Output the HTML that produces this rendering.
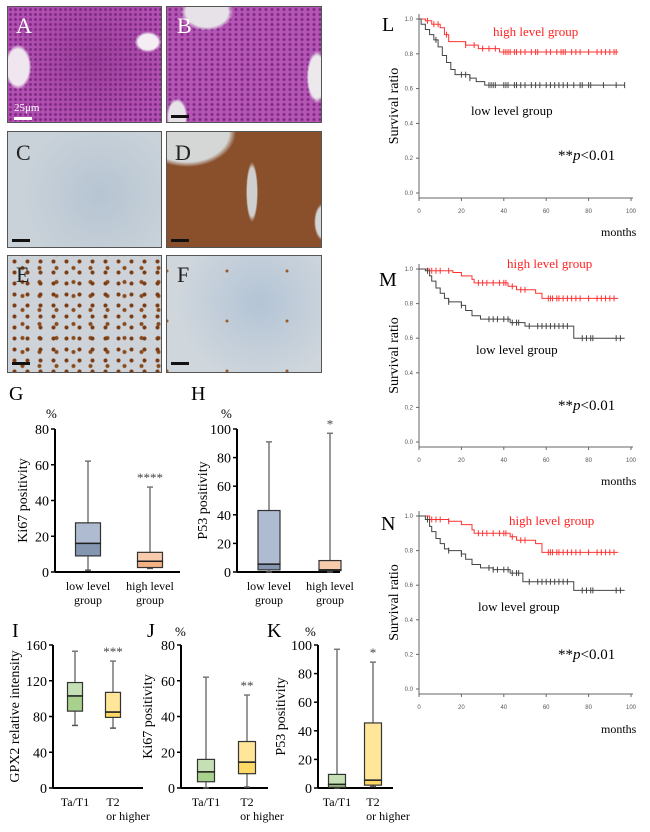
<!DOCTYPE html>
<html><head><meta charset="utf-8"><style>
body{margin:0;background:#fff;width:650px;height:832px;overflow:hidden;position:relative;font-family:"Liberation Serif",serif}
.img{position:absolute;border:1px solid #555;box-sizing:border-box;overflow:hidden}
.lbl{position:absolute;font:22px "Liberation Serif",serif}
.bar{position:absolute;height:3px;width:18px}
svg{position:absolute;left:0;top:0}
</style></head><body>
<div class="img" style="left:7px;top:6px;width:155px;height:117px;background:radial-gradient(ellipse 18px 30px at 10px 60px,#efe6f0 60%,transparent 75%),radial-gradient(ellipse 18px 14px at 140px 35px,#f4eef4 55%,transparent 75%),radial-gradient(circle,#7d2a80 1px,transparent 2px) 0 0/5px 5px,radial-gradient(circle at 55% 45%,#9d409d,#b451b4 70%)"><div class="lbl" style="left:8px;top:6px;color:#fff">A</div><div style="position:absolute;left:6px;top:95px;color:#fff;font-size:11px">25μm</div><div class="bar" style="left:6px;top:110px;background:#fff"></div></div>
<div class="img" style="left:166px;top:6px;width:156px;height:117px;background:radial-gradient(ellipse 35px 25px at 40px 5px,#e6e2e8 60%,transparent 75%),radial-gradient(ellipse 14px 35px at 150px 70px,#ece8ec 60%,transparent 75%),radial-gradient(ellipse 14px 25px at 10px 110px,#e6e2e8 60%,transparent 75%),radial-gradient(circle,#7d2a80 1px,transparent 2px) 0 0/6px 5px,#b555b5"><div class="lbl" style="left:10px;top:6px;color:#fff">B</div><div class="bar" style="left:4px;top:108px;background:#111"></div></div>
<div class="img" style="left:7px;top:131px;width:155px;height:117px;background:radial-gradient(circle at 60% 55%,#b6c4d2,#c9d2d9 70%),#ccd3d8"><div class="lbl" style="left:8px;top:8px;color:#222">C</div><div class="bar" style="left:4px;top:107px;background:#111"></div></div>
<div class="img" style="left:166px;top:131px;width:156px;height:117px;background:radial-gradient(ellipse 70px 50px at 20px 0px,#d5d6d6 60%,transparent 70%),radial-gradient(ellipse 8px 40px at 85px 60px,#cfcfcf 60%,transparent 75%),radial-gradient(ellipse 12px 25px at 156px 90px,#d4d5d5 60%,transparent 75%),#8a4f2b"><div class="lbl" style="left:8px;top:8px;color:#222">D</div><div class="bar" style="left:4px;top:107px;background:#111"></div></div>
<div class="img" style="left:7px;top:255px;width:155px;height:118px;background:radial-gradient(circle,#7a3a12 1.5px,transparent 2.5px) 0 0/13px 11px,radial-gradient(circle,#8a4a1a 1.5px,transparent 2.5px) 6px 5px/17px 14px,#cdd3d8"><div class="lbl" style="left:8px;top:6px;color:#222">E</div><div class="bar" style="left:4px;top:106px;background:#111"></div></div>
<div class="img" style="left:166px;top:255px;width:156px;height:118px;background:radial-gradient(circle,#9a5a2a 1px,transparent 2px) 30px 40px/60px 50px,radial-gradient(circle at 60% 40%,#b3c4d6,#cfd6dc 70%)"><div class="lbl" style="left:10px;top:6px;color:#222">F</div><div class="bar" style="left:4px;top:106px;background:#111"></div></div>
<svg id="svg" width="650" height="832"></svg>
<script>
// ---- Box plot data: [min,q1,median,q3,max]
const gCats=["low level|group","high level|group"];
const gLow=[1,9,16,27.5,62];
const gHigh=[2,2.5,6,11,47.5];
const hLow=[0,1.5,5.5,43,91];
const hHigh=[0,1,1.5,8,97];
const iCats=["Ta/T1","T2|or higher"];
const iTa=[70,86,103,118,153];
const iT2=[67,79,85,107,142];
const jTa=[0,3.5,9,16,62];
const jT2=[0.5,8,14.5,26,52];
const kTa=[0,0.5,2.5,9.5,97];
const kT2=[1,2,5.5,45.5,88];
const ticks80=[0,20,40,60,80];
const ticks100=[0,20,40,60,80,100];
const ticks160=[0,40,80,120,160];
// ---- Survival data: step points [time, survival]
const lHigh=[[0,1],[3,0.99],[6,0.97],[10,0.95],[12,0.91],[14,0.87],[22,0.85],[28,0.83],[38,0.81],[94,0.81]];
const lLow=[[0,1],[1,0.97],[3,0.94],[5,0.91],[7,0.88],[9,0.84],[11,0.79],[13,0.75],[15,0.71],[17,0.68],[24,0.66],[27,0.64],[31,0.62],[97,0.62]];
const mHigh=[[0,1],[5,0.99],[16,0.98],[20,0.96],[25,0.94],[26,0.92],[42,0.9],[46,0.88],[55,0.86],[58,0.83],[94,0.83]];
const mLow=[[0,1],[3,0.99],[5,0.96],[6,0.93],[8,0.89],[10,0.86],[12,0.83],[14,0.81],[20,0.79],[22,0.76],[25,0.73],[29,0.71],[43,0.69],[50,0.67],[73,0.6],[97,0.6]];
const nHigh=[[0,1],[5,0.98],[14,0.97],[20,0.95],[25,0.92],[26,0.9],[43,0.88],[46,0.86],[55,0.84],[58,0.79],[94,0.79]];
const nLow=[[0,1],[3,0.98],[5,0.94],[6,0.91],[8,0.87],[10,0.84],[12,0.81],[14,0.8],[20,0.78],[22,0.75],[25,0.72],[29,0.7],[35,0.69],[43,0.67],[49,0.62],[73,0.57],[97,0.57]];
const censHighL=[4,7,9,13,22,26,30,33,36,40,41,42,43,45,46,48,50,53,55,56,60,62,65,67,68,69,72,74,76,80,84,86,88,90,92,93];
const censLowL=[8,20,22,24,33,34,35,36,40,41,42,45,46,48,50,53,55,57,60,62,64,66,68,70,73,76,77,80,81,87,93,97];
const censHighM=[6,8,10,14,28,30,32,35,38,40,41,44,48,50,61,62,63,65,66,68,70,72,74,76,80,84,86,88,90,92];
const censLowM=[4,14,20,33,35,37,40,42,44,46,47,52,56,58,60,62,64,66,68,70,77,79,81,82,93,95];
const censHighN=[6,8,10,14,28,30,32,35,38,40,41,44,48,50,61,62,63,65,66,68,70,72,74,76,80,84,86,88,90,92];
const censLowN=[4,14,20,33,35,37,40,42,44,46,47,52,56,58,60,62,64,66,68,70,77,79,81,82,93,95];
const survTicksY=[0,0.2,0.4,0.6,0.8,1.0];
const survTicksX=[0,20,40,60,80,100];

const NS="http://www.w3.org/2000/svg";
const svg=document.getElementById('svg');
function el(tag,attrs,parent){const e=document.createElementNS(NS,tag);for(const k in attrs)e.setAttribute(k,attrs[k]);(parent||svg).appendChild(e);return e;}
function txt(x,y,s,size,attrs,parent){const t=el('text',Object.assign({x:x,y:y,'font-size':size,'font-family':'Liberation Serif, serif'},attrs||{}),parent);t.textContent=s;return t;}

function boxChart(o){
  const g=el('g',{});
  
  
  const y=v=>o.y0-(v/o.max)*(o.y0-o.yTop);
  el('line',{x1:o.ax,y1:o.yTop,x2:o.ax,y2:o.y0,stroke:'#000','stroke-width':2},g);
  el('line',{x1:o.ax,y1:o.y0,x2:o.axEnd,y2:o.y0,stroke:'#000','stroke-width':2},g);
  o.ticks.forEach(t=>{el('line',{x1:o.ax-4,y1:y(t),x2:o.ax,y2:y(t),stroke:'#000','stroke-width':1.5},g);
    const tl=txt(o.ax-6,y(t)+5,String(t),14,{'text-anchor':'end'},g);
    
    });
  const yt=txt(0,0,o.ylabel,14,{transform:`translate(${o.ylx},${(o.yTop+o.y0)/2}) rotate(-90)`,'text-anchor':'middle'},g);
  
  
  if(o.pct){const p=txt(o.pct[0],o.pct[1],'%',13,{},g);}
  const pl=txt(o.letter[0],o.letter[1],o.letterText,20,{},g);
  
  
  o.series.forEach((s,i)=>{
    const cx=o.cx[i],w=o.w,d=s.data;
    const bg=el('g',{},g);
    
    
    el('line',{x1:cx,y1:y(d[4]),x2:cx,y2:y(d[0]),stroke:'#777','stroke-width':1.5},bg);
    el('line',{x1:cx-3,y1:y(d[4]),x2:cx+3,y2:y(d[4]),stroke:'#777','stroke-width':1.5},bg);
    el('line',{x1:cx-3,y1:y(d[0]),x2:cx+3,y2:y(d[0]),stroke:'#555','stroke-width':1.5},bg);
    el('rect',{x:cx-w/2,y:y(d[2]),width:w,height:y(d[1])-y(d[2]),fill:s.c2,stroke:'#333','stroke-width':1.2},bg);
    el('rect',{x:cx-w/2,y:y(d[3]),width:w,height:y(d[2])-y(d[3]),fill:s.c1,stroke:'#333','stroke-width':1.2},bg);
    el('line',{x1:cx-w/2,y1:y(d[2]),x2:cx+w/2,y2:y(d[2]),stroke:'#222','stroke-width':1.5},bg);
    if(s.star){const st=txt(cx,y(d[4])-5,s.star,13,{'text-anchor':'middle',fill:'#444'},g);}
    const lines=o.cats[i].split('|');
    lines.forEach((ln,j)=>{const c=txt(cx+(o.catOff&&j==1?o.catOff:0),o.y0+18+j*14,ln,12,{'text-anchor':'middle'},g);});
  });
}
const blue1='#aebbd0',blue2='#8496b0',or1='#f8cbad',or2='#f4b183',gr1='#c5e0b4',gr2='#a9d18e',ye1='#ffe699',ye2='#ffd966';
boxChart({name:'chart-g-ki67',ax:55,axEnd:180,y0:572,yTop:429,max:80,ticks:ticks80,ylabel:'Ki67 positivity',ylx:27,pct:[46,418],letter:[9,400],letterText:'G',cx:[88,150],w:25,cats:gCats,
  series:[{id:'g-low',data:gLow,c1:blue1,c2:blue2},{id:'g-high',data:gHigh,c1:or1,c2:or2,star:'****'}]});
boxChart({name:'chart-h-p53',ax:237,axEnd:340,y0:572,yTop:429,max:100,ticks:ticks100,ylabel:'P53 positivity',ylx:207,pct:[221,418],letter:[191,400],letterText:'H',cx:[269,330],w:22,cats:gCats,
  series:[{id:'h-low',data:hLow,c1:blue1,c2:blue2},{id:'h-high',data:hHigh,c1:or1,c2:or2,star:'*'}]});
boxChart({name:'chart-i-gpx2',ax:53,axEnd:143,y0:788,yTop:645,max:160,ticks:ticks160,ylabel:'GPX2 relative  intensity',ylx:19,letter:[12,637],letterText:'I',cx:[75,113],w:15,catOff:15,cats:iCats,
  series:[{id:'i-ta',data:iTa,c1:gr1,c2:gr2},{id:'i-t2',data:iT2,c1:ye1,c2:ye2,star:'***'}]});
boxChart({name:'chart-j-ki67',ax:181,axEnd:268,y0:788,yTop:645,max:80,ticks:ticks80,ylabel:'Ki67 positivity',ylx:152,pct:[175,636],letter:[147,637],letterText:'J',cx:[206,247],w:17,catOff:15,cats:iCats,
  series:[{id:'j-ta',data:jTa,c1:gr1,c2:gr2},{id:'j-t2',data:jT2,c1:ye1,c2:ye2,star:'**'}]});
boxChart({name:'chart-k-p53',ax:318,axEnd:393,y0:788,yTop:645,max:100,ticks:ticks100,ylabel:'P53 positivity',ylx:285,pct:[305,636],letter:[267,637],letterText:'K',cx:[337,373],w:17,catOff:15,cats:iCats,
  series:[{id:'k-ta',data:kTa,c1:gr1,c2:gr2},{id:'k-t2',data:kT2,c1:ye1,c2:ye2,star:'*'}]});

function survChart(o){
  const g=el('g',{});
  
  
  const x0=419,x1=631;
  const X=t=>x0+t/100*(x1-x0), Y=v=>o.y0-v*(o.y0-o.yTop);
  el('line',{x1:x0,y1:Y(1)-5,x2:x0,y2:o.y0+5,stroke:'#666','stroke-width':1},g);
  el('line',{x1:x0,y1:o.y0+5,x2:x1+2,y2:o.y0+5,stroke:'#666','stroke-width':1},g);
  survTicksY.forEach(t=>{el('line',{x1:x0-3,y1:Y(t),x2:x0,y2:Y(t),stroke:'#666'},g);
    const tl=txt(x0-6,Y(t)+2,t.toFixed(1),6,{'text-anchor':'end',fill:'#555','font-family':'Liberation Sans, sans-serif'},g);
    
    });
  survTicksX.forEach(t=>{el('line',{x1:X(t),y1:o.y0+5,x2:X(t),y2:o.y0+8,stroke:'#666'},g);
    const tl=txt(X(t),o.y0+20,String(t),6,{'text-anchor':'middle',fill:'#555','font-family':'Liberation Sans, sans-serif'},g);
    
    });
  function curve(pts,cens,color,id){
    let d=`M${X(pts[0][0])},${Y(pts[0][1])}`;
    for(let i=1;i<pts.length;i++){d+=` H${X(pts[i][0])} V${Y(pts[i][1])}`;}
    const p=el('path',{d:d,fill:'none',stroke:color,'stroke-width':1},g);
    
    
    cens.forEach(t=>{let v=pts[0][1];for(const q of pts){if(q[0]<=t)v=q[1];}
      el('line',{x1:X(t),y1:Y(v)-3,x2:X(t),y2:Y(v)+3,stroke:color,'stroke-width':1},g);});
  }
  curve(o.high,o.ch,'#f33','high');
  curve(o.low,o.cl,'#444','low');
  const yt=txt(0,0,'Survival  ratio',14,{transform:`translate(398,${(o.yTop+o.y0)/2}) rotate(-90)`,'text-anchor':'middle'},g);
  
  
  const L=txt(o.letter[0],o.letter[1],o.letterText,20,{},g);
  const h=txt(o.hi[0],o.hi[1],'high  level  group',13,{fill:'#f22'},g);
  const lo=txt(o.lo[0],o.lo[1],'low  level  group',13,{},g);
  const pv=el('text',{x:558,y:o.p,'font-size':15,'font-family':'Liberation Serif, serif'},g);
  pv.innerHTML='**<tspan font-style="italic">p</tspan>&lt;0.01';
  
  
  const m=txt(601,o.months,'months',12,{},g);
}
survChart({name:'chart-l-survival',y0:193,yTop:19,high:lHigh,low:lLow,ch:censHighL,cl:censLowL,letter:[382,31],letterText:'L',hi:[493,36],lo:[471,115],p:160,months:236});
survChart({name:'chart-m-survival',y0:442,yTop:269,high:mHigh,low:mLow,ch:censHighM,cl:censLowM,letter:[379,286],letterText:'M',hi:[507,268],lo:[476,354],p:410,months:485});
survChart({name:'chart-n-survival',y0:689,yTop:516,high:nHigh,low:nLow,ch:censHighN,cl:censLowN,letter:[381,530],letterText:'N',hi:[509,525],lo:[478,611],p:659,months:733});
</script>
</body></html>
